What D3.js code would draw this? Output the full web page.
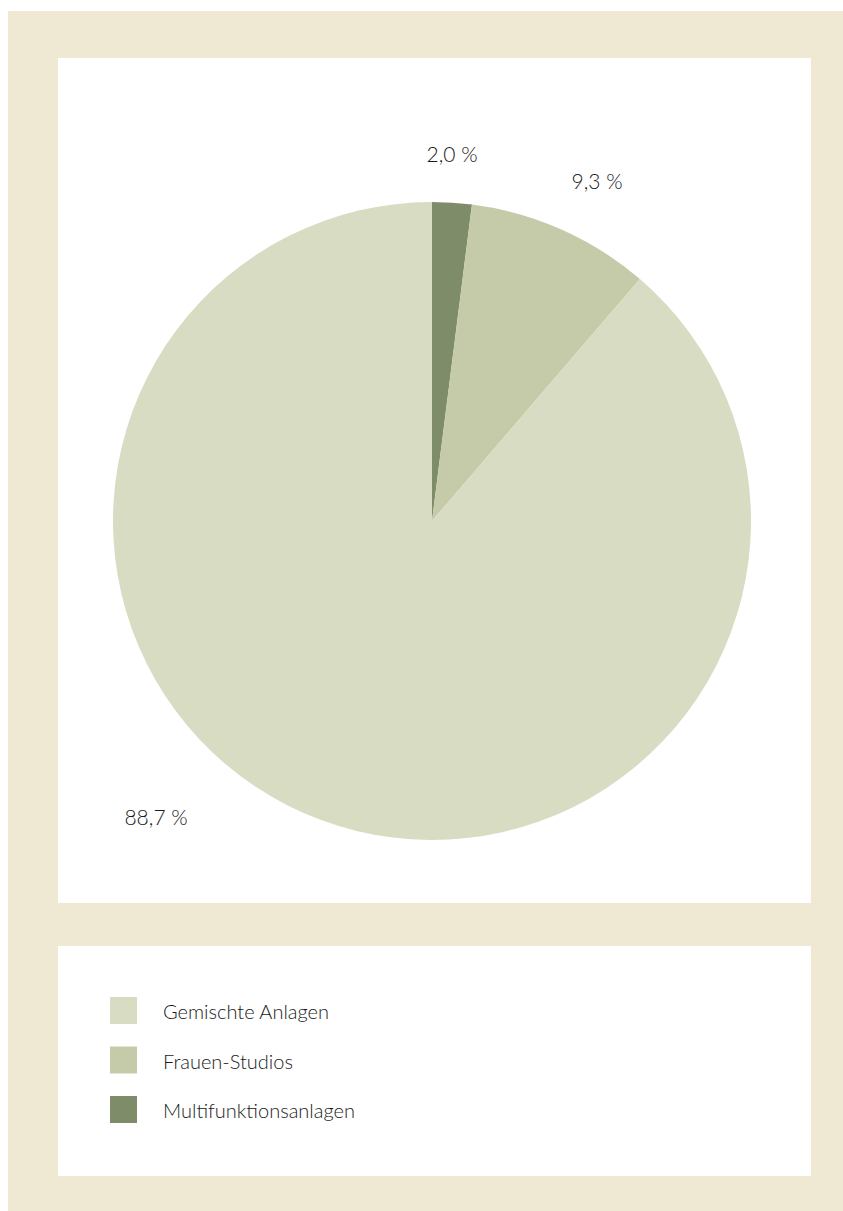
<!DOCTYPE html>
<html>
<head>
<meta charset="utf-8">
<script src="https://cdn.jsdelivr.net/npm/d3@7"></script>
<style>
  html, body { margin: 0; padding: 0; background: #ffffff; }
  svg { display: block; }
  text { font-family: "Lato", "Noto Sans", sans-serif; font-weight: 300; fill: #1a1a1a; }
</style>
</head>
<body>
<script>
// Anteile nach Anlagentyp (in Prozent), im Uhrzeigersinn ab 12 Uhr
const categories = ["Multifunktionsanlagen", "Frauen-Studios", "Gemischte Anlagen"];
const values = [2.0, 9.3, 88.7];
const valueLabels = ["2,0 %", "9,3 %", "88,7 %"];
const colors = ["#7f8c69", "#c5cba8", "#d8dcc3"];
// Legendenreihenfolge
const legendOrder = ["Gemischte Anlagen", "Frauen-Studios", "Multifunktionsanlagen"];

const W = 843, H = 1211;
const svg = d3.select("body").append("svg").attr("width", W).attr("height", H);

// Rahmen und Flächen
svg.append("rect").attr("x", 8).attr("y", 11).attr("width", W - 8).attr("height", H - 11).attr("fill", "#efe9d3");
svg.append("rect").attr("x", 58).attr("y", 58).attr("width", 753).attr("height", 845).attr("fill", "#ffffff");
svg.append("rect").attr("x", 58).attr("y", 946).attr("width", 753).attr("height", 230).attr("fill", "#ffffff");

// Kreisdiagramm
const cx = 432, cy = 521, R = 319;
const pie = d3.pie().sort(null).value(d => d);
const arc = d3.arc().innerRadius(0).outerRadius(R);
const arcs = pie(values);

const g = svg.append("g").attr("transform", `translate(${cx},${cy})`);
g.selectAll("path.slice").data(arcs).enter().append("path")
  .attr("class", "slice")
  .attr("d", arc)
  .attr("fill", (d, i) => colors[i]);

// Beschriftung: Winkelverschiebung und Abstand vom Mittelpunkt je Segment
const labelPlacement = [
  { dAngle: -0.0085, r: 368 },
  { dAngle: 0.034,   r: 378 },
  { dAngle: 0.397,   r: 404 }
];
g.selectAll("text.val").data(arcs).enter().append("text")
  .attr("class", "val")
  .each(function (d, i) {
    const a = (d.startAngle + d.endAngle) / 2 + labelPlacement[i].dAngle;
    const r = labelPlacement[i].r;
    d3.select(this)
      .attr("x", r * Math.sin(a))
      .attr("y", -r * Math.cos(a))
      .attr("text-anchor", "middle")
      .attr("dominant-baseline", "central")
      .attr("font-size", 21)
      .text(valueLabels[i]);
  });

// Legende
const ly = d3.scalePoint().domain(legendOrder).range([1010, 1109]);
const legend = svg.append("g").selectAll("g").data(legendOrder).enter().append("g")
  .attr("transform", d => `translate(110,${ly(d)})`);
legend.append("rect")
  .attr("x", 0).attr("y", -13).attr("width", 27).attr("height", 27)
  .attr("fill", d => colors[categories.indexOf(d)]);
legend.append("text")
  .attr("x", 53).attr("y", 1)
  .attr("dominant-baseline", "central")
  .attr("font-size", 20)
  .text(d => d);
</script>
</body>
</html>
